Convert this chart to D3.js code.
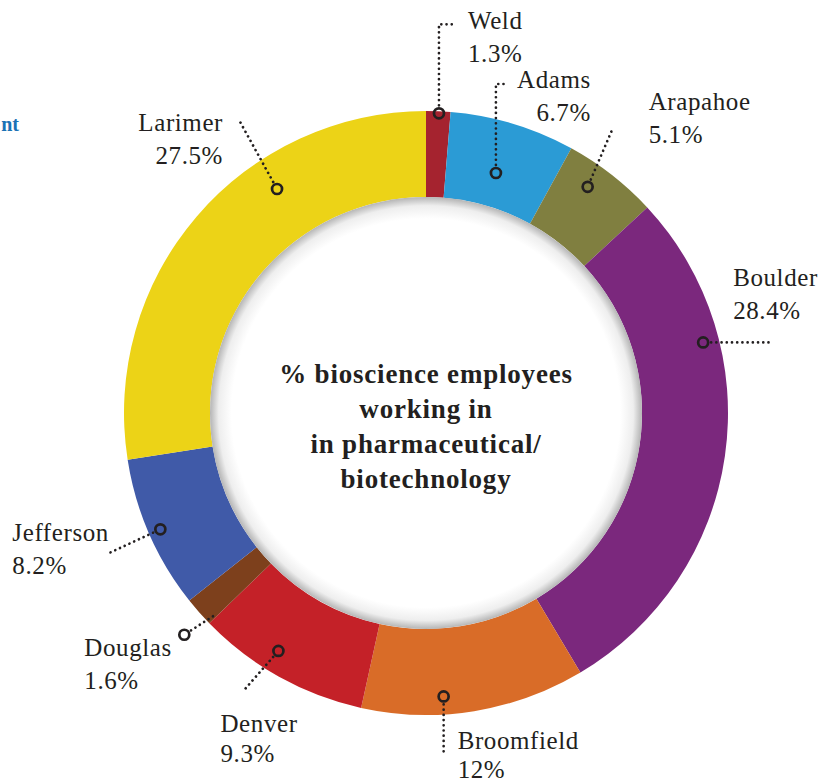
<!DOCTYPE html>
<html>
<head>
<meta charset="utf-8">
<script src="https://cdn.jsdelivr.net/npm/d3@7"></script>
<style>
  body { margin: 0; background: #fff; }
  svg { display: block; }
</style>
</head>
<body>
<div id="chart"></div>
<script>
// counties clockwise from the top
const counties = ["Weld", "Adams", "Arapahoe", "Boulder", "Broomfield", "Denver", "Douglas", "Jefferson", "Larimer"];
const shares = [1.3, 6.7, 5.1, 28.4, 12, 9.3, 1.6, 8.2, 27.5];
const shareLabels = ["1.3%", "6.7%", "5.1%", "28.4%", "12%", "9.3%", "1.6%", "8.2%", "27.5%"];
const colors = ["#a5232f", "#2b9bd5", "#807f40", "#7b287d", "#d96c28", "#c42128", "#7d401c", "#405aa8", "#ecd317"];
const titleLines = ["% bioscience employees", "working in", "in pharmaceutical/", "biotechnology"];

const width = 839, height = 783;
const cx = 426, cy = 413;
const outerR = 302, innerR = 216;
const serif = "Liberation Serif";
const ink = "#231f20";

// annotation layout: marker (fraction along slice, radius), leader points and label spot relative to marker
const callouts = {
  Weld:       { t: 0.53, r: 300, path: [[0, -89], [13, -89]], label: [29, -84], anchor: "start" },
  Adams:      { t: 0.48, r: 250, path: [[0, -89], [12, -89]], label: [95, -85], anchor: "end" },
  Arapahoe:   { t: 0.37, r: 278, path: [[24, -56]], label: [61, -77], anchor: "start" },
  Boulder:    { t: 0.28, r: 286, path: [[66, 0]], label: [30, -56], anchor: "start" },
  Broomfield: { t: 0.63, r: 284, path: [[0, 56]], label: [14, 53], anchor: "start", gap: 29 },
  Denver:     { t: 0.58, r: 280, path: [[-36, 41]], label: [-58, 81], anchor: "start", gap: 30 },
  Douglas:    { t: 0.28, r: 328, path: [[31, -20]], label: [-100, 21], anchor: "start" },
  Jefferson:  { t: 0.50, r: 290, path: [[-54, 25]], label: [-148, 12], anchor: "start" },
  Larimer:    { t: 0.66, r: 269, path: [[-38, -69]], label: [-54, -58], anchor: "end" }
};

const data = counties.map((c, i) => ({ county: c, value: shares[i], label: shareLabels[i], color: colors[i] }));

const svg = d3.select("#chart").append("svg")
  .attr("width", width)
  .attr("height", height);

svg.append("rect").attr("width", width).attr("height", height).attr("fill", "#fff");

// fragment of neighbouring text at the page edge
svg.append("text")
  .attr("x", 19).attr("y", 131)
  .attr("text-anchor", "end")
  .attr("font-family", serif)
  .attr("font-size", 20)
  .attr("font-weight", "bold")
  .attr("fill", "#1b72b5")
  .text("nt");

const defs = svg.append("defs");
const grad = defs.append("radialGradient").attr("id", "innerShade");
grad.append("stop").attr("offset", "0.90").attr("stop-color", "#ffffff");
grad.append("stop").attr("offset", "0.96").attr("stop-color", "#eeeeee");
grad.append("stop").attr("offset", "1").attr("stop-color", "#b5b5b5");

const g = svg.append("g").attr("transform", "translate(" + cx + "," + cy + ")");

const pie = d3.pie().sort(null).value(d => d.value);
const arc = d3.arc().innerRadius(innerR).outerRadius(outerR);
const arcs = pie(data);

g.selectAll("path.slice")
  .data(arcs)
  .enter()
  .append("path")
  .attr("class", "slice")
  .attr("d", arc)
  .attr("fill", d => d.data.color);

// inner disc with soft shadow at its rim
g.append("circle")
  .attr("r", innerR)
  .attr("fill", "url(#innerShade)");

// centre title
g.append("text")
  .attr("font-family", serif)
  .attr("font-size", 27)
  .attr("font-weight", "bold")
  .attr("letter-spacing", 0.8)
  .attr("fill", ink)
  .attr("text-anchor", "middle")
  .selectAll("tspan")
  .data(titleLines)
  .enter()
  .append("tspan")
  .attr("x", 0)
  .attr("y", (d, i) => -30 + i * 35)
  .text(d => d);

// callouts
const ann = g.append("g");
arcs.forEach(a => {
  const c = callouts[a.data.county];
  const ang = a.startAngle + c.t * (a.endAngle - a.startAngle);
  const mx = Math.sin(ang) * c.r;
  const my = -Math.cos(ang) * c.r;

  // start the dotted leader just outside the ring marker
  const first = c.path[0];
  const len = Math.hypot(first[0], first[1]);
  const pts = [[mx + first[0] / len * 8, my + first[1] / len * 8]]
    .concat(c.path.map(p => [mx + p[0], my + p[1]]));

  ann.append("path")
    .attr("d", d3.line()(pts))
    .attr("fill", "none")
    .attr("stroke", ink)
    .attr("stroke-width", 2.7)
    .attr("stroke-linecap", "round")
    .attr("stroke-dasharray", "0.01 5.2");

  ann.append("circle")
    .attr("cx", mx).attr("cy", my)
    .attr("r", 5)
    .attr("fill", "none")
    .attr("stroke", ink)
    .attr("stroke-width", 2.7);

  const gap = c.gap || 33;
  const t = ann.append("text")
    .attr("font-family", serif)
    .attr("font-size", 25)
    .attr("letter-spacing", 0.6)
    .attr("fill", ink)
    .attr("text-anchor", c.anchor);
  t.append("tspan").attr("x", mx + c.label[0]).attr("y", my + c.label[1]).text(a.data.county);
  t.append("tspan").attr("x", mx + c.label[0]).attr("y", my + c.label[1] + gap).text(a.data.label);
});
</script>
</body>
</html>
